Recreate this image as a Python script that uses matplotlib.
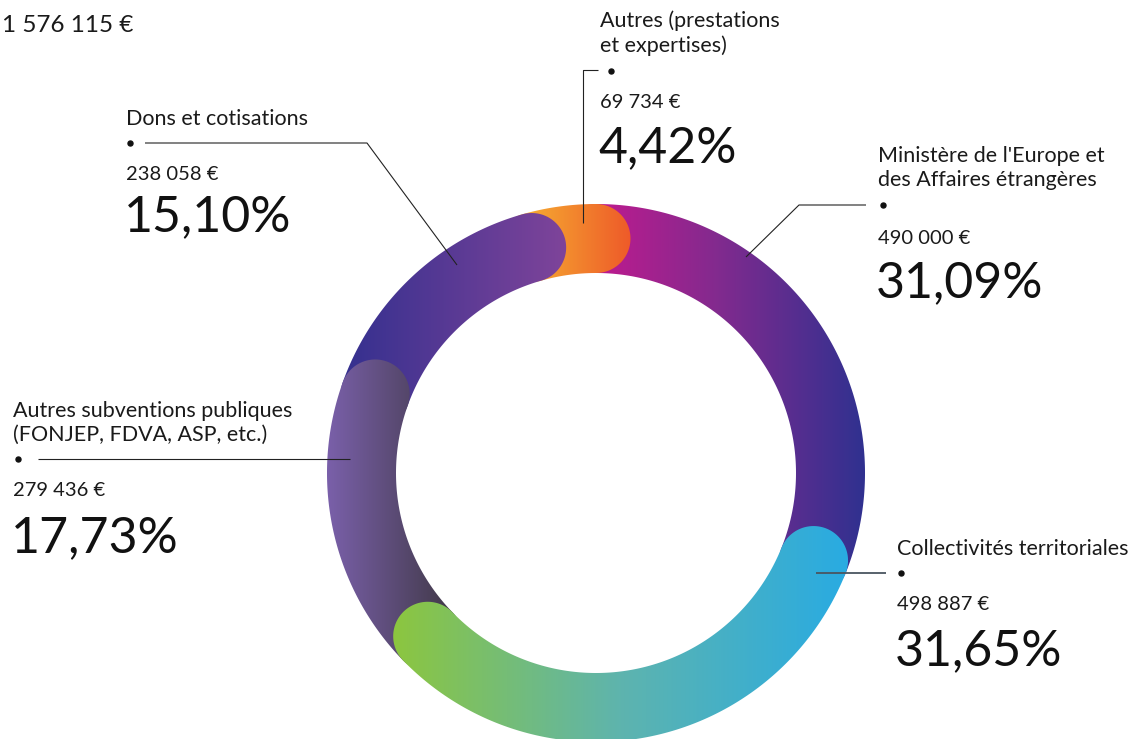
import numpy as np
import matplotlib
matplotlib.use("Agg")
import matplotlib.pyplot as plt
from matplotlib.path import Path
from matplotlib.patches import PathPatch
from matplotlib.colors import LinearSegmentedColormap

# ---------------- data ----------------
categories = [
    "Ministère de l'Europe et\ndes Affaires étrangères",
    "Collectivités territoriales",
    "Autres subventions publiques\n(FONJEP, FDVA, ASP, etc.)",
    "Dons et cotisations",
    "Autres (prestations\net expertises)",
]
values = [490000, 498887, 279436, 238058, 69734]

# ---------------- styles / layout ----------------
gradients = [
    ["#d0168e", "#842a8e", "#2f3190"],
    ["#8cc63f", "#5eb4ae", "#29abe2"],
    ["#7a60aa", "#3c3640"],
    ["#34308f", "#7f449a"],
    ["#f8c234", "#ee5a29"],
]
draw_order = [0, 4, 3, 2, 1]

W, H = 1137, 739
CX, CY = 596, 473
R_OUT, R_IN = 269, 200

label_layout = [
    dict(x=878, name_y=168, dot=(883, 205), val_y=239, pct_y=283),
    dict(x=897, name_y=549, dot=(901, 573), val_y=605, pct_y=651),
    dict(x=13, name_y=423, dot=(18, 459), val_y=491, pct_y=538),
    dict(x=126, name_y=119, dot=(130, 143), val_y=175, pct_y=217),
    dict(x=600, name_y=33, dot=(611, 71), val_y=103, pct_y=148),
]
leaders = [
    dict(pts=[(866, 205), (799, 205), (746, 257)], color="#222222", lw=0.8),
    dict(pts=[(886, 573), (816, 573)], color="#4a5560", lw=1.3),
    dict(pts=[(38, 459), (350, 459)], color="#222222", lw=0.8),
    dict(pts=[(145, 143), (367, 143), (457, 265)], color="#222222", lw=0.8),
    dict(pts=[(598, 70), (583, 70), (583, 223)], color="#222222", lw=0.8),
]

FONT = ["Lato", "DejaVu Sans"]
plt.rcParams["font.family"] = FONT

fig = plt.figure(figsize=(W / 100, H / 100), dpi=100)
ax = fig.add_axes([0, 0, 1, 1])
ax.set_xlim(0, W)
ax.set_ylim(H, 0)
ax.axis("off")


def pt(theta, r):
    return np.array([CX + r * np.sin(theta), CY - r * np.cos(theta)])


def segment_path(t1, t2):
    rm = (R_OUT + R_IN) / 2
    hw = (R_OUT - R_IN) / 2
    n = 200
    verts = []
    for t in np.linspace(t1, t2, n):
        verts.append(pt(t, R_OUT))
    c = pt(t2, rm)
    u = np.array([np.sin(t2), -np.cos(t2)])
    tv = np.array([np.cos(t2), np.sin(t2)])
    for p in np.linspace(0, np.pi, 60):
        verts.append(c + hw * (u * np.cos(p) + tv * np.sin(p)))
    for t in np.linspace(t2, t1, n):
        verts.append(pt(t, R_IN))
    c = pt(t1, rm)
    u = np.array([np.sin(t1), -np.cos(t1)])
    tv = np.array([np.cos(t1), np.sin(t1)])
    for p in np.linspace(0, np.pi, 60):
        verts.append(c + hw * (-u * np.cos(p) - tv * np.sin(p)))
    verts.append(verts[0])
    verts = np.array(verts)
    codes = [Path.MOVETO] + [Path.LINETO] * (len(verts) - 2) + [Path.CLOSEPOLY]
    return Path(verts, codes)


total = sum(values)
fracs = np.array(values) / total
bounds = np.concatenate([[0], np.cumsum(fracs)]) * 2 * np.pi

z = 2
for i in draw_order:
    t1, t2 = bounds[i], bounds[i + 1]
    path = segment_path(t1, t2)
    patch = PathPatch(path, facecolor="none", edgecolor="none")
    ax.add_patch(patch)
    xs = path.vertices[:, 0]
    x0, x1 = xs.min(), xs.max()
    cmap = LinearSegmentedColormap.from_list("g%d" % i, gradients[i])
    grad = np.linspace(0, 1, 512)[None, :]
    im = ax.imshow(grad, cmap=cmap, aspect="auto",
                   extent=(x0, x1, CY + R_OUT + 10, CY - R_OUT - 10),
                   interpolation="bilinear", zorder=z)
    im.set_clip_path(patch)
    z += 1

ax.set_xlim(0, W)
ax.set_ylim(H, 0)


def fmt_eur(v):
    return "{:,}".format(v).replace(",", " ") + " €"


def fmt_pct(f):
    return ("%.2f" % (f * 100)).replace(".", ",") + "%"


for i, cat in enumerate(categories):
    L = label_layout[i]
    ax.text(L["x"], L["name_y"], cat, ha="left", va="center", fontsize=15.5,
            color="#1a1a1a", linespacing=1.25, zorder=20)
    ax.plot([L["dot"][0]], [L["dot"][1]], "o", color="#111111", ms=3.6, zorder=20)
    ax.text(L["x"], L["val_y"], fmt_eur(values[i]), ha="left", va="center",
            fontsize=14.5, color="#1a1a1a", zorder=20)
    ax.text(L["x"] - 2, L["pct_y"], fmt_pct(fracs[i]), ha="left", va="center",
            fontsize=36, fontweight="normal", color="#111111", zorder=20)
    ld = leaders[i]
    px, py = zip(*ld["pts"])
    ax.plot(px, py, color=ld["color"], lw=ld["lw"], zorder=21,
            solid_capstyle="butt")

ax.text(2, 26, fmt_eur(total), ha="left", va="center", fontsize=17.5,
        color="#1a1a1a", zorder=20)

fig.savefig("out.png", dpi=100, facecolor="white")
